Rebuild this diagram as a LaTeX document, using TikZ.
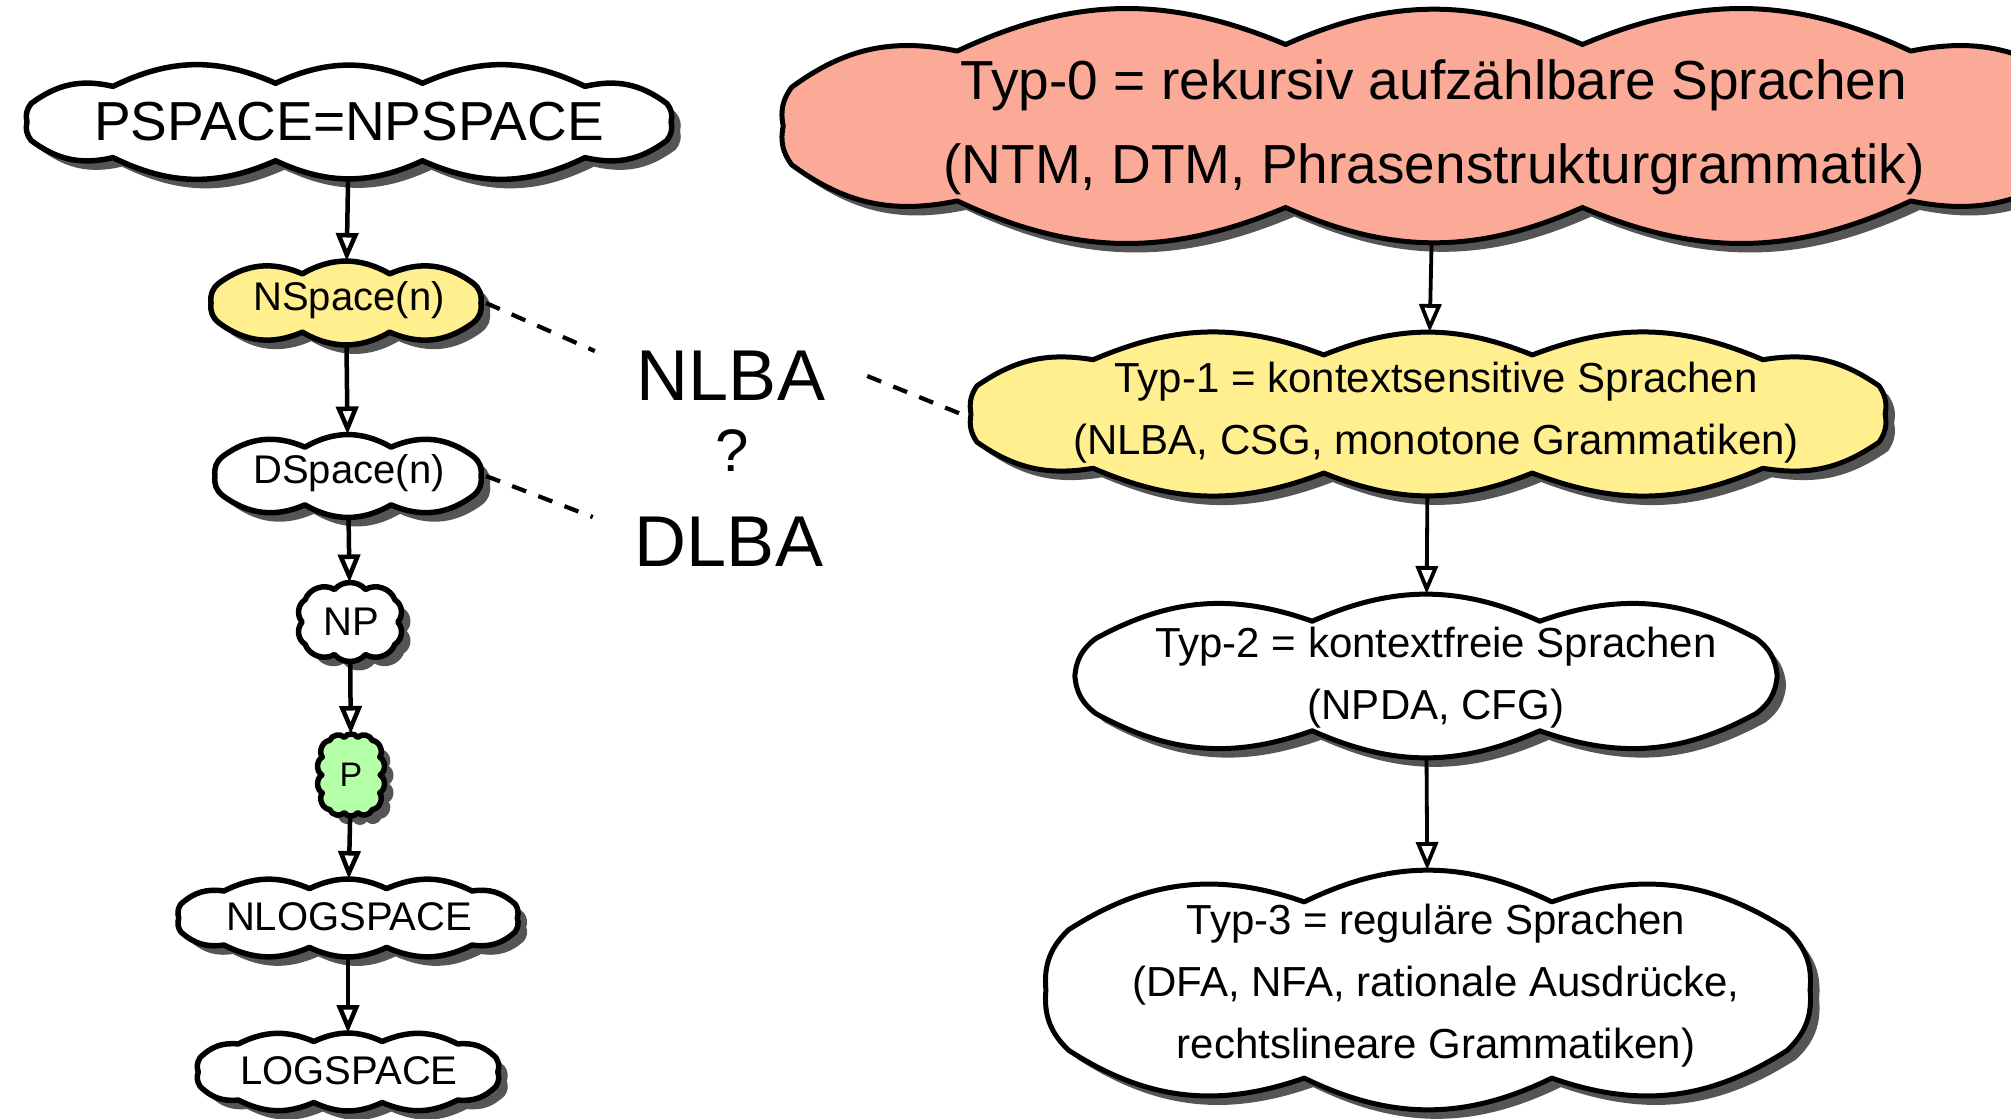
\documentclass[tikz,border=0pt]{standalone}
\usepackage{fontspec}
\setmainfont{Liberation Sans}
\usetikzlibrary{shapes.geometric,shadows,arrows.meta}
\definecolor{salmon}{HTML}{FAAA96}
\definecolor{lyellow}{HTML}{FFEF8F}
\definecolor{lgreen}{HTML}{B4FFA8}
\definecolor{shadowgray}{HTML}{555555}
% #1 name, #2 x, #3 y, #4 W, #5 H, #6 puffs, #7 bend, #8 style
\newcommand{\mycloud}[8]{%
  \node[ellipse, minimum width=#4pt, minimum height=#5pt, inner sep=0pt, outer sep=0pt] (#1) at (#2,#3) {};
  \pgfmathsetmacro{\chalf}{180/#6}%
  \pgfmathsetmacro{\cstep}{360/#6}%
  \pgfmathsetmacro{\crx}{#4/2-0.06*#5}%
  \pgfmathsetmacro{\ctop}{0.294*sin(#7)*2*\crx*sx(90-\chalf)}%
  \pgfmathsetmacro{\cry}{(#5/2-\ctop)/sy(90-\chalf)}%
  \pgfmathtruncatemacro{\clast}{#6-1}%
  \begin{scope}[shift={(#1.center)}, x=1pt, y=1pt]
    \path[cloudline, #8] ({\crx*sx(0)},{\cry*sy(0)})
      \foreach \i in {1,...,\clast}{ to[bend right=#7] ({\crx*sx(\i*\cstep)},{\cry*sy(\i*\cstep)})}
      to[bend right=#7] ({\crx*sx(360)},{\cry*sy(360)}) -- cycle;
  \end{scope}
}
\begin{document}
\begin{tikzpicture}[x=1pt,y=-1pt,
  declare function={
    sd(\t)=(abs(cos(\t))^4+abs(sin(\t))^4)^(0.25);
    sx(\t)=cos(\t)/sd(\t);
    sy(\t)=sin(\t)/sd(\t);},
  cloudline/.style={draw, fill=white, line join=round,
    drop shadow={shadow xshift=9pt,shadow yshift=-9pt,fill=shadowgray,opacity=1}},
  lc/.style={line width=5.5pt},
  rc/.style={line width=5pt},
  arr/.style={line width=4.5pt, -{Triangle[open,length=28pt,width=22pt]}},
  rarr/.style={line width=3.8pt, -{Triangle[open,length=28pt,width=22pt]}},
  dsh/.style={line width=4.2pt, dash pattern=on 15pt off 13pt},
  lbl/.style={align=center, inner sep=0pt},
  fsmall/.style={font=\fontsize{40}{48}\selectfont},
  fbig/.style={font=\fontsize{55}{66}\selectfont},
  fright/.style={font=\fontsize{42}{62}\selectfont},
  fzero/.style={font=\fontsize{55}{84}\selectfont},
  fmid/.style={font=\fontsize{72}{86}\selectfont}]
\useasboundingbox (0,0) rectangle (2011,1119);

% left column clouds
\mycloud{psp}{349}{122}{658}{114}{14}{25}{lc}
\mycloud{nsp}{346}{303}{280}{84}{10}{30}{lc, fill=lyellow}
\mycloud{dsp}{348}{476}{276}{83}{10}{30}{lc}
\mycloud{np}{350}{622}{105}{79}{10}{50}{lc}
\mycloud{p}{351}{775}{68}{82}{14}{60}{lc, fill=lgreen}
\mycloud{nlog}{348}{918}{348}{78}{14}{25}{lc}
\mycloud{log}{348}{1072}{309}{78}{14}{25}{lc}

\node[lbl, fbig] (pspt) at (349,122) {PSPACE=NPSPACE};
\node[lbl, fsmall] (nspt) at (349,300) {NSpace(n)};
\node[lbl, fsmall] (dspt) at (349,473) {DSpace(n)};
\node[lbl, fsmall] (npt) at (351,622) {NP};
\node[lbl, font=\fontsize{34}{40}\selectfont] (pt) at (351,775) {P};
\node[lbl, fsmall] (nlogt) at (349,917) {NLOGSPACE};
\node[lbl, fsmall] (logt) at (349,1071) {LOGSPACE};

% right column clouds
\mycloud{t0}{1434}{126}{1330}{234}{14}{24}{rc, fill=salmon}
\mycloud{t1}{1428}{414}{934}{164}{14}{22}{rc, fill=lyellow}
\mycloud{t2}{1426}{676}{722}{164}{10}{24}{rc}
\mycloud{t3}{1428}{990}{793}{240}{10}{26}{rc}

\node[lbl, fzero] (t0t) at (1434,127) {Typ-0 = rekursiv aufzählbare Sprachen\\(NTM, DTM, Phrasenstrukturgrammatik)};
\node[lbl, fright] (t1t) at (1436,413) {Typ-1 = kontextsensitive Sprachen\\(NLBA, CSG, monotone Grammatiken)};
\node[lbl, fright] (t2t) at (1436,678) {Typ-2 = kontextfreie Sprachen\\(NPDA, CFG)};
\node[lbl, fright] (t3t) at (1436,986) {Typ-3 = reguläre Sprachen\\(DFA, NFA, rationale Ausdrücke,\\rechtslineare Grammatiken)};

% middle labels
\node[lbl, fmid, inner xsep=42pt] (nlba) at (731,376) {NLBA};
\node[lbl, font=\fontsize{60}{70}\selectfont] (q) at (732,451) {?};
\node[lbl, fmid, inner xsep=42pt] (dlba) at (729,542) {DLBA};

% arrows
\draw[arr] (psp) -- (nsp);
\draw[arr] (nsp) -- (dsp);
\draw[arr] (dsp) -- (np);
\draw[arr] (np) -- (p);
\draw[arr] (p) -- (nlog);
\draw[arr] (nlog) -- (log);

\draw[rarr] (t0) -- (t1);
\draw[rarr] (t1) -- (t2);
\draw[rarr] (t2) -- (t3);

% dashed
\draw[dsh] (nsp.east) -- (nlba.north west);
\draw[dsh] (nlba.east) -- (t1.west);
\draw[dsh] (dsp.east) -- (dlba.north west);
\end{tikzpicture}
\end{document}
